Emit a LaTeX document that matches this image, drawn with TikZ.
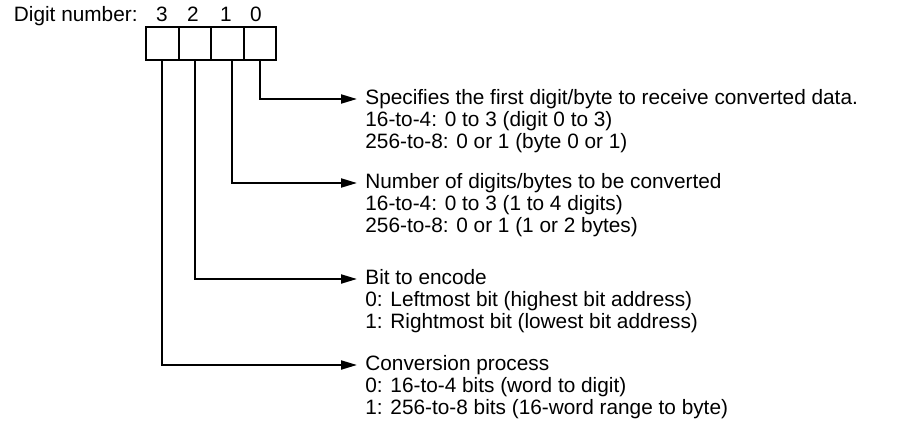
\documentclass[tikz,border=0pt]{standalone}
\usepackage{fontspec}
\setmainfont{Liberation Sans}
\usetikzlibrary{arrows.meta, positioning}

\begin{document}
\begin{tikzpicture}[x=0.5pt, y=-0.5pt,
      node distance=0pt,
      cell/.style={draw, line width=1pt, outer sep=0pt, inner sep=0pt, minimum width=16.25pt, minimum height=16.5pt},
      num/.style={anchor=base, inner sep=0pt, font=\fontsize{10.4}{11}\selectfont},
      head/.style={anchor=west, inner xsep=4pt, inner ysep=0pt, text height=7.5pt, text depth=2pt, font=\fontsize{10.4}{11}\selectfont},
      note/.style={anchor=base west, align=left, inner xsep=4pt, inner ysep=0pt, font=\fontsize{10.4}{11}\selectfont},
      arr/.style={-{Triangle[length=8pt, width=4.5pt]}, line width=1pt}]
    \useasboundingbox (0,0) rectangle (898,423);
    % four digit cells
    \node[cell] (c3) at (162.25,43.5) {};
    \node[cell, right=of c3] (c2) {};
    \node[cell, right=of c2] (c1) {};
    \node[cell, right=of c1] (c0) {};
    \node[num, anchor=base east] (dn) at (138,21) {Digit number:};
    \node[num] (n3) at (162,21) {3};
    \node[num] (n2) at (193,21) {2};
    \node[num] (n1) at (226,21) {1};
    \node[num] (n0) at (256,21) {0};
    % descriptions
    \node[head] (h0) at (357,99) {Specifies the first digit/byte to receive converted data.};
    \node[note] (t0) at ([yshift=-22pt]h0.base west) {16-to-4: 0 to 3 (digit 0 to 3)\\256-to-8: 0 or 1 (byte 0 or 1)};
    \node[head] (h1) at (357,183) {Number of digits/bytes to be converted};
    \node[note] (t1) at ([yshift=-22pt]h1.base west) {16-to-4: 0 to 3 (1 to 4 digits)\\256-to-8: 0 or 1 (1 or 2 bytes)};
    \node[head] (h2) at (357,279) {Bit to encode};
    \node[note] (t2) at ([yshift=-22pt]h2.base west) {0: Leftmost bit (highest bit address)\\1: Rightmost bit (lowest bit address)};
    \node[head] (h3) at (357,365) {Conversion process};
    \node[note] (t3) at ([yshift=-22pt]h3.base west) {0: 16-to-4 bits (word to digit)\\1: 256-to-8 bits (16-word range to byte)};
    % leaders
    \draw[arr] (c0.south) |- (h0.west);
    \draw[arr] ([xshift=2.5pt]c1.south) |- (h1.west);
    \draw[arr] (c2.south) |- (h2.west);
    \draw[arr] (c3.south) |- (h3.west);
  \end{tikzpicture}
\end{document}
